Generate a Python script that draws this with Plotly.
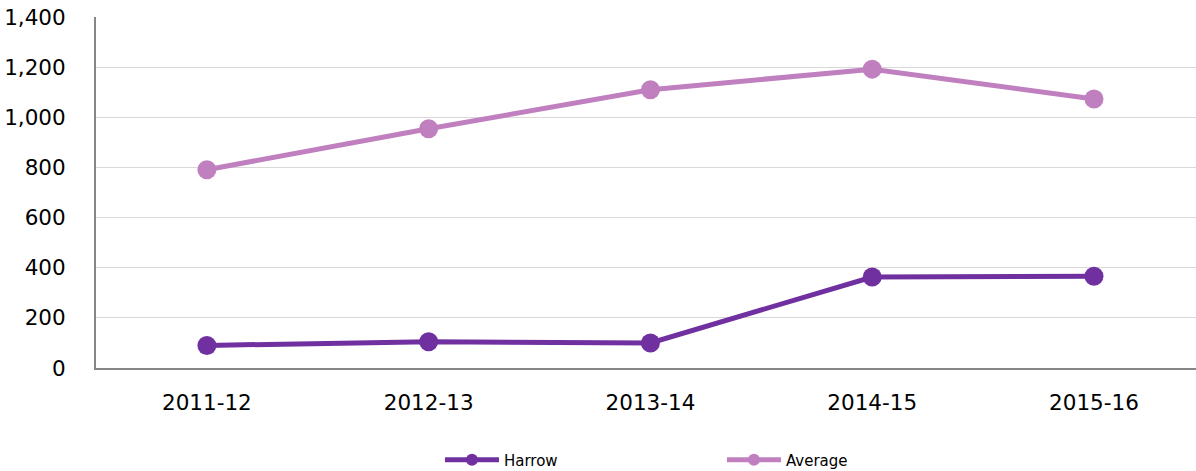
import plotly.graph_objects as go

categories = ["2011-12", "2012-13", "2013-14", "2014-15", "2015-16"]
harrow = [90, 105, 100, 363, 366]
average = [791, 954, 1110, 1192, 1073]
y_ticks = [0, 200, 400, 600, 800, 1000, 1200, 1400]
y_tick_labels = ["0", "200", "400", "600", "800", "1,000", "1,200", "1,400"]

fig = go.Figure()
fig.add_trace(go.Scatter(x=categories, y=harrow, name="Harrow", mode="lines+markers",
                         line=dict(color="#7030A0", width=5), marker=dict(size=19, color="#7030A0")))
fig.add_trace(go.Scatter(x=categories, y=average, name="Average", mode="lines+markers",
                         line=dict(color="#C080C0", width=5), marker=dict(size=19, color="#C080C0")))

fig.update_layout(
    width=1196, height=471,
    margin=dict(l=96, r=0, t=17, b=103, autoexpand=False),
    paper_bgcolor="white", plot_bgcolor="white",
    font=dict(family="DejaVu Sans", color="#000000", size=21.5),
    showlegend=True,
    legend=dict(orientation="h", x=0.3127, xanchor="left", y=-0.262, yanchor="middle",
                font=dict(size=15), entrywidth=213, entrywidthmode="pixels",
                itemsizing="constant", itemwidth=54),
    xaxis=dict(type="category", range=[-0.5, 4.46], showgrid=False, automargin=False,
               showline=True, linecolor="#868686", linewidth=2,
               ticks="", ticklabelstandoff=14, tickfont=dict(size=21.5)),
    yaxis=dict(range=[0, 1400], tickvals=y_ticks, ticktext=y_tick_labels, automargin=False,
               showgrid=True, gridcolor="#d9d9d9", gridwidth=1,
               showline=True, linecolor="#868686", linewidth=2, zeroline=False,
               ticks="", ticklabelstandoff=24, tickfont=dict(size=21.5)),
)

fig.write_html("out.html", config={"displayModeBar": False},
               post_script="document.body.style.margin='0';document.body.style.overflow='hidden';")
